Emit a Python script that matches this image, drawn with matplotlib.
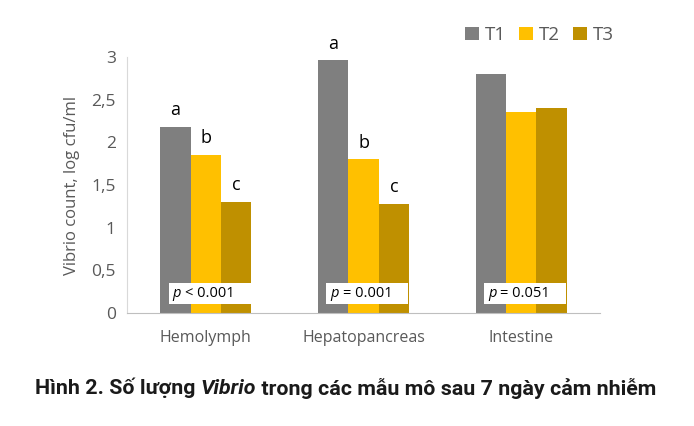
import numpy as np
import matplotlib
matplotlib.use("Agg")
import matplotlib.pyplot as plt
from matplotlib.patches import Rectangle

# Du lieu
tissues = ["Hemolymph", "Hepatopancreas", "Intestine"]
series = ["T1", "T2", "T3"]
t1 = [2.18, 2.96, 2.80]
t2 = [1.85, 1.80, 2.36]
t3 = [1.30, 1.28, 2.40]
letters = [["a", "b", "c"], ["a", "b", "c"], ["", "", ""]]
p_labels = ["< 0.001", "= 0.001", "= 0.051"]
colors = ["#7f7f7f", "#ffc000", "#bf9000"]
yticks = [0, 0.5, 1, 1.5, 2, 2.5, 3]
ytick_labels = ["0", "0,5", "1", "1,5", "2", "2,5", "3"]

plt.rcParams['font.family'] = ['Open Sans', 'DejaVu Sans']
grey_txt = "#595959"

fig = plt.figure(figsize=(6.94, 4.26), dpi=100)
ax = fig.add_axes([0.183, 0.2653, 0.6816, 0.6009])
renderer = fig.canvas.get_renderer()

x = np.arange(len(tissues))
w = 0.193
vals = [t1, t2, t3]
for i, (s, v) in enumerate(zip(series, vals)):
    ax.bar(x + (i - 1) * w, v, width=w, color=colors[i], label=s, zorder=2)
    for j in range(len(tissues)):
        if letters[j][i]:
            ax.text(x[j] + (i - 1) * w, v[j] + 0.09, letters[j][i], ha='center', va='bottom',
                    fontsize=13, color='black')

ax.set_xlim(-0.5, 2.5)
ax.set_ylim(0, 3)

# boites p-value
for j in range(len(tissues)):
    ax.add_patch(Rectangle((x[j] - 0.235, 0.105), 0.52, 0.245, facecolor='white',
                           edgecolor='none', zorder=3))
    tp = ax.text(x[j] - 0.21, 0.225, "p ", style='italic', fontsize=10.5, va='center',
                 ha='left', zorder=4)
    bb = tp.get_window_extent(renderer)
    x_next = ax.transData.inverted().transform((bb.x1, bb.y0))[0]
    ax.text(x_next, 0.225, p_labels[j], fontsize=10.5, va='center', ha='left', zorder=4)

ax.set_xticks(x)
ax.set_xticklabels(tissues, fontsize=11.5, color=grey_txt)
ax.set_yticks(yticks)
ax.set_yticklabels(ytick_labels, fontsize=12.5, color=grey_txt)
ax.tick_params(length=0, pad=8)
ax.tick_params(axis='x', pad=12)
for sp in ['top', 'right']:
    ax.spines[sp].set_visible(False)
ax.spines['left'].set_color('#d9d9d9')
ax.spines['bottom'].set_color('#bfbfbf')
ax.set_ylabel("Vibrio count, log cfu/ml", fontsize=12, color=grey_txt, labelpad=8)

fig.legend(loc='center', bbox_to_anchor=(0.777, 0.918), ncol=3, frameon=False,
           fontsize=13.5, handlelength=0.75, handleheight=0.75, handletextpad=0.3,
           columnspacing=0.7, labelcolor=grey_txt)

# chu thich hinh
cap_font = ['Roboto', 'DejaVu Sans']
parts = [("Hình 2. Số lượng ", 'normal'), ("Vibrio", 'italic'),
         (" trong các mẫu mô sau 7 ngày cảm nhiễm", 'normal')]


def draw_caption(size):
    xpos = 35
    objs = []
    for txt, st in parts:
        t = fig.text(xpos / 694, 1 - 388 / 426, txt, fontsize=size, fontweight='bold', style=st,
                     family=cap_font, va='center', ha='left', color='#1a1a1a')
        xpos += t.get_window_extent(renderer).width
        objs.append(t)
    return objs, xpos - 35


objs, width = draw_caption(16)
size = 16 * 620 / width
for o in objs:
    o.remove()
draw_caption(size)

fig.savefig("out.png", dpi=100)
